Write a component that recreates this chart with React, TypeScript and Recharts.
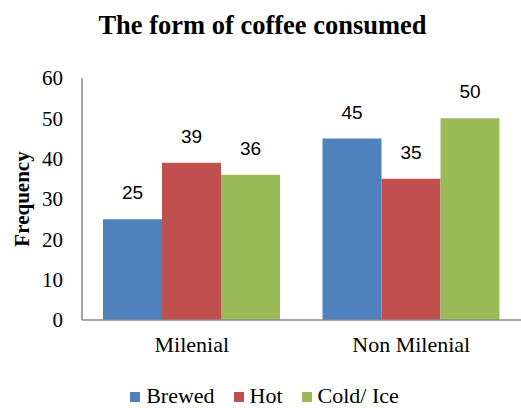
import React from 'react';
import { BarChart, Bar, XAxis, YAxis, Legend, LabelList } from 'recharts';

const groups = ['Milenial', 'Non Milenial'];
const brewed = [25, 45];
const hot = [39, 35];
const coldIce = [36, 50];
const yTicks = [0, 10, 20, 30, 40, 50, 60];

const series = [
    { key: 'brewed', name: 'Brewed', color: '#4F81BD' },
    { key: 'hot', name: 'Hot', color: '#C0504D' },
    { key: 'coldIce', name: 'Cold/ Ice', color: '#9BBB59' },
];

const data = groups.map((g, i) => ({
    group: g,
    brewed: brewed[i],
    hot: hot[i],
    coldIce: coldIce[i],
}));

const serif = '"Liberation Serif", "Times New Roman", serif';
const sans = '"Liberation Sans", Arial, sans-serif';
const axisColor = '#898989';

// Square swatches followed by the series name, office style
const renderLegend = () => (
    <div
        style={{
            display: 'flex',
            justifyContent: 'center',
            gap: 19,
            fontFamily: serif,
            fontSize: 22,
            lineHeight: '21px',
            height: 21,
            color: '#000',
        }}
    >
        {series.map(s => (
            <div key={s.key} style={{ display: 'flex', alignItems: 'center', gap: 6 }}>
                <span style={{ width: 10, height: 10, background: s.color, display: 'inline-block', marginTop: 3 }} />
                <span>{s.name}</span>
            </div>
        ))}
    </div>
);

const FrequencyLabel = (props: any) => {
    const vb = props.viewBox || {};
    const cy = (vb.y ?? 0) + (vb.height ?? 0) / 2;
    return (
        <text
            x={22}
            y={cy}
            transform={`rotate(-90, 22, ${cy})`}
            textAnchor="middle"
            dominantBaseline="central"
            fontFamily={serif}
            fontWeight="bold"
            fontSize={21}
            fill="#000"
        >
            Frequency
        </text>
    );
};

const App: React.FC = () => {
    return (
        <div style={{ position: 'absolute', left: 0, top: 0, width: 521, height: 408, background: '#fff' }}>
            <div
                style={{
                    position: 'absolute',
                    top: 12,
                    left: 2,
                    width: 521,
                    textAlign: 'center',
                    fontFamily: serif,
                    fontWeight: 'bold',
                    fontSize: 26.5,
                    lineHeight: '26px',
                    color: '#000',
                }}
            >
                The form of coffee consumed
            </div>
            <BarChart
                width={521}
                height={408}
                data={data}
                margin={{ top: 78, right: 0, left: 0, bottom: 52 }}
                barCategoryGap={21}
                barGap={0}
            >
                <XAxis
                    dataKey="group"
                    height={36}
                    tickLine={false}
                    tickSize={0}
                    tickMargin={16}
                    stroke={axisColor}
                    strokeWidth={1.5}
                    tick={{ fill: '#000', fontFamily: serif, fontSize: 22 }}
                />
                <YAxis
                    width={82}
                    domain={[0, 60]}
                    ticks={yTicks}
                    interval={0}
                    tickLine={false}
                    tickSize={0}
                    tickMargin={19}
                    stroke={axisColor}
                    strokeWidth={1.5}
                    tick={{ fill: '#000', fontFamily: serif, fontSize: 21 }}
                    label={<FrequencyLabel />}
                />
                <Legend
                    layout="horizontal"
                    verticalAlign="middle"
                    align="center"
                    content={renderLegend}
                    wrapperStyle={{ top: 385, left: 4, width: 521 }}
                />
                {series.map(s => (
                    <Bar key={s.key} dataKey={s.key} name={s.name} fill={s.color} isAnimationActive={false}>
                        <LabelList
                            dataKey={s.key}
                            position="top"
                            offset={20}
                            fill="#000"
                            fontFamily={sans}
                            fontSize={19}
                        />
                    </Bar>
                ))}
            </BarChart>
        </div>
    );
};

export default App;
